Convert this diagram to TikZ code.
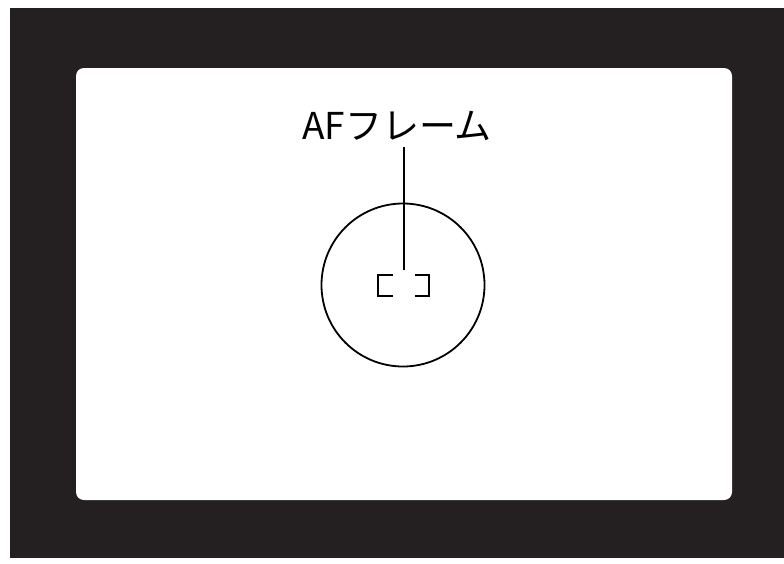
\documentclass[tikz,border=0pt]{standalone}
\usepackage{fontspec}
\newfontfamily\cjk{Noto Sans CJK JP}
\definecolor{framedark}{HTML}{241F20}
\begin{document}
\begin{tikzpicture}[x=1pt,y=-1pt,
  thinline/.style={draw=black,line width=1.8pt},
  bracketline/.style={draw=black,line width=2.4pt,line cap=butt}]
\useasboundingbox (0,0) rectangle (784,563);
\fill[white] (0,0) rectangle (784,563);
% outer dark frame
\fill[framedark] (10,8) rectangle (784,558);
% inner white window
\fill[white,rounded corners=8pt] (76,68) rectangle (732,500);
% label
\node[font=\cjk\fontsize{37}{40}\selectfont,anchor=base,inner sep=0pt,outer sep=0pt] (lbl) at (397,139) {AFフレーム};
% circle
\node[circle,thinline,minimum size=163pt,inner sep=0pt] (circ) at (403,285) {};
% leader line from label down into the circle
\coordinate (tip) at (404,270);
\draw[thinline] (lbl.south -| tip) ++(0,7) -- (tip);
% AF bracket
\draw[bracketline] (393,275) -- (378,275) -- (378,296) -- (393,296);
\draw[bracketline] (415,275) -- (429,275) -- (429,296) -- (415,296);
\end{tikzpicture}
\end{document}
